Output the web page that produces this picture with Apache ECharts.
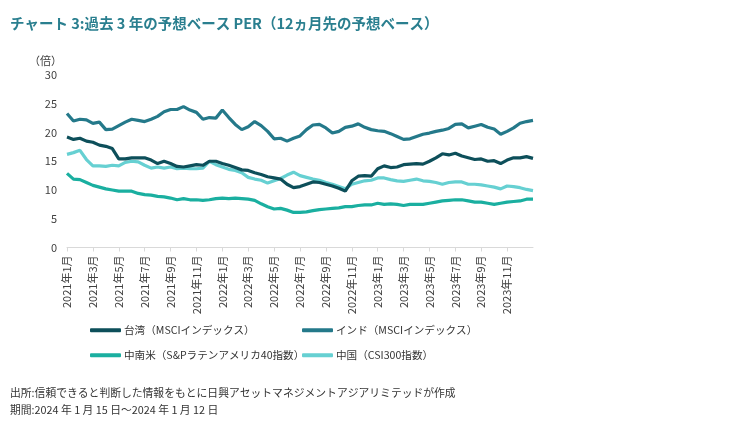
<!DOCTYPE html>
<html>
<head>
<meta charset="utf-8">
<script src="https://cdn.jsdelivr.net/npm/echarts@6/dist/echarts.min.js"></script>
<style>
html,body{margin:0;padding:0;background:#fff;}
#chart{width:751px;height:430px;}
</style>
</head>
<body>
<div id="chart"></div>
<script>
// Semi-monthly observation dates (1st and 16th of each month), Jan 2021 - Jan 2024
const dates = [];
for (let y = 2021; y <= 2023; y++) {
  for (let m = 1; m <= 12; m++) {
    const mm = (m < 10 ? '0' : '') + m;
    dates.push(y + '-' + mm + '-01');
    dates.push(y + '-' + mm + '-16');
  }
}
dates.push('2024-01-01');

const seriesNames = [
  '台湾（MSCIインデックス）',
  'インド（MSCIインデックス）',
  '中南米（S&Pラテンアメリカ40指数）',
  '中国（CSI300指数）'
];

const taiwan = [
  19.2, 18.8, 19.0, 18.5, 18.3, 17.8, 17.6, 17.2, 15.4, 15.4,
  15.6, 15.6, 15.6, 15.2, 14.6, 15.0, 14.6, 14.1, 14.0, 14.2,
  14.4, 14.3, 15.0, 15.0, 14.6, 14.3, 13.9, 13.5, 13.4, 13.0,
  12.7, 12.3, 12.1, 11.9, 11.0, 10.4, 10.6, 11.0, 11.4, 11.3,
  11.0, 10.7, 10.3, 9.8, 11.6, 12.4, 12.5, 12.4, 13.7, 14.2,
  13.9, 14.0, 14.4, 14.5, 14.6, 14.5, 15.0, 15.6, 16.3, 16.1,
  16.4, 15.9, 15.6, 15.3, 15.4, 15.0, 15.1, 14.6, 15.2, 15.6,
  15.6, 15.8, 15.5
];

const india = [
  23.3, 22.0, 22.3, 22.2, 21.6, 21.8, 20.5, 20.6, 21.2, 21.8,
  22.3, 22.1, 21.9, 22.3, 22.8, 23.6, 24.0, 24.0, 24.5, 23.9,
  23.5, 22.3, 22.6, 22.5, 23.9, 22.6, 21.4, 20.5, 21.0, 21.9,
  21.2, 20.2, 18.9, 19.0, 18.5, 19.0, 19.4, 20.5, 21.3, 21.4,
  20.8, 19.9, 20.2, 20.9, 21.1, 21.5, 20.9, 20.5, 20.3, 20.2,
  19.8, 19.3, 18.8, 18.9, 19.3, 19.7, 19.9, 20.2, 20.4, 20.7,
  21.4, 21.5, 20.8, 21.1, 21.4, 20.9, 20.6, 19.7, 20.2, 20.8,
  21.6, 21.9, 22.1
];

const latam = [
  12.9, 11.9, 11.8, 11.3, 10.8, 10.5, 10.2, 10.0, 9.8, 9.8,
  9.8, 9.4, 9.2, 9.1, 8.9, 8.8, 8.6, 8.3, 8.5, 8.3,
  8.3, 8.2, 8.3, 8.5, 8.6, 8.5, 8.6, 8.5, 8.4, 8.2,
  7.6, 7.1, 6.7, 6.8, 6.5, 6.1, 6.1, 6.2, 6.4, 6.6,
  6.7, 6.8, 6.9, 7.1, 7.1, 7.3, 7.4, 7.4, 7.7, 7.5,
  7.6, 7.5, 7.3, 7.5, 7.5, 7.5, 7.7, 7.9, 8.1, 8.2,
  8.3, 8.3, 8.1, 7.9, 7.9, 7.7, 7.5, 7.7, 7.9, 8.0,
  8.1, 8.4, 8.4
];

const china = [
  16.2, 16.5, 16.9, 15.3, 14.2, 14.2, 14.1, 14.3, 14.2, 14.8,
  15.0, 14.9, 14.3, 13.8, 14.0, 13.8, 14.0, 13.7, 13.8, 13.7,
  13.7, 13.8, 15.0, 14.4, 14.0, 13.6, 13.4, 13.0, 12.2, 11.9,
  11.7, 11.2, 11.6, 12.0, 12.6, 13.1, 12.5, 12.2, 11.9, 11.7,
  11.3, 11.0, 10.6, 10.2, 11.0, 11.3, 11.6, 11.7, 12.1, 12.1,
  11.8, 11.6, 11.5, 11.7, 11.9, 11.6, 11.5, 11.3, 11.0, 11.3,
  11.4, 11.4, 11.0, 11.0, 10.9, 10.7, 10.5, 10.2, 10.7, 10.6,
  10.4, 10.1, 9.9
];

const yTicks = [0, 5, 10, 15, 20, 25, 30];

const colors = ['#0d4f5a', '#24798a', '#1aafa0', '#66d0d2'];
const seriesData = [taiwan, india, latam, china];

const FONT = '"Noto Sans CJK JP", "Noto Sans", sans-serif';

function isLabelIdx(idx) {
  // first observation of odd months (Jan, Mar, ...), excluding the final Jan 2024 point
  if (idx >= dates.length - 1) return false;
  const d = dates[idx];
  const mo = parseInt(d.slice(5, 7), 10);
  return d.slice(8) === '01' && mo % 2 === 1;
}

const chart = echarts.init(document.getElementById('chart'), null, {renderer: 'canvas'});

const legendPos = [
  {left: 90, top: 325},
  {left: 302, top: 325},
  {left: 90, top: 350},
  {left: 302, top: 350}
];

chart.setOption({
  animation: false,
  backgroundColor: '#ffffff',
  textStyle: {fontFamily: FONT},
  graphic: [
    {type: 'text', left: 10, top: 16, style: {text: 'チャート 3:過去 3 年の予想ベース PER（12ヵ月先の予想ベース）', font: 'bold 14.5px ' + FONT, fill: '#2a7f8f'}},
    {type: 'text', left: 29, top: 55, style: {text: '（倍）', font: '11px ' + FONT, fill: '#404040'}},
    {type: 'text', left: 10, top: 388, style: {text: '出所:信頼できると判断した情報をもとに日興アセットマネジメントアジアリミテッドが作成', font: '10.8px ' + FONT, fill: '#333333'}},
    {type: 'text', left: 10, top: 405, style: {text: '期間:2024 年 1 月 15 日～2024 年 1 月 12 日', font: '10.8px ' + FONT, fill: '#333333'}}
  ],
  legend: seriesNames.map((n, i) => ({
    data: [n],
    left: legendPos[i].left,
    top: legendPos[i].top,
    padding: 0,
    icon: 'roundRect',
    itemWidth: 31,
    itemHeight: 4,
    itemGap: 0,
    textStyle: {fontSize: 10.6, color: '#333333', fontFamily: FONT, padding: [0, 0, 0, -2]}
  })),
  grid: {left: 67, right: 218, top: 75, bottom: 182.5, containLabel: false},
  xAxis: {
    type: 'category',
    data: dates,
    boundaryGap: false,
    axisLine: {show: true, lineStyle: {color: '#d9d9d9', width: 1}},
    axisTick: {show: true, length: 4, interval: (idx) => isLabelIdx(idx), lineStyle: {color: '#d9d9d9'}},
    axisLabel: {
      interval: (idx) => isLabelIdx(idx),
      rotate: 90,
      fontSize: 11,
      color: '#404040',
      fontFamily: FONT,
      margin: 8,
      formatter: (v) => parseInt(v.slice(0, 4), 10) + '年' + parseInt(v.slice(5, 7), 10) + '月'
    },
    splitLine: {show: false}
  },
  yAxis: {
    type: 'value',
    min: yTicks[0],
    max: yTicks[yTicks.length - 1],
    interval: 5,
    axisLine: {show: false},
    axisTick: {show: false},
    splitLine: {show: false},
    axisLabel: {fontSize: 11, color: '#404040', fontFamily: FONT, margin: 10}
  },
  series: seriesNames.map((n, i) => ({
    name: n,
    type: 'line',
    data: seriesData[i],
    showSymbol: false,
    symbol: 'none',
    lineStyle: {color: colors[i], width: 3.2},
    itemStyle: {color: colors[i]},
    z: 10 - i
  }))
});
</script>
</body>
</html>
